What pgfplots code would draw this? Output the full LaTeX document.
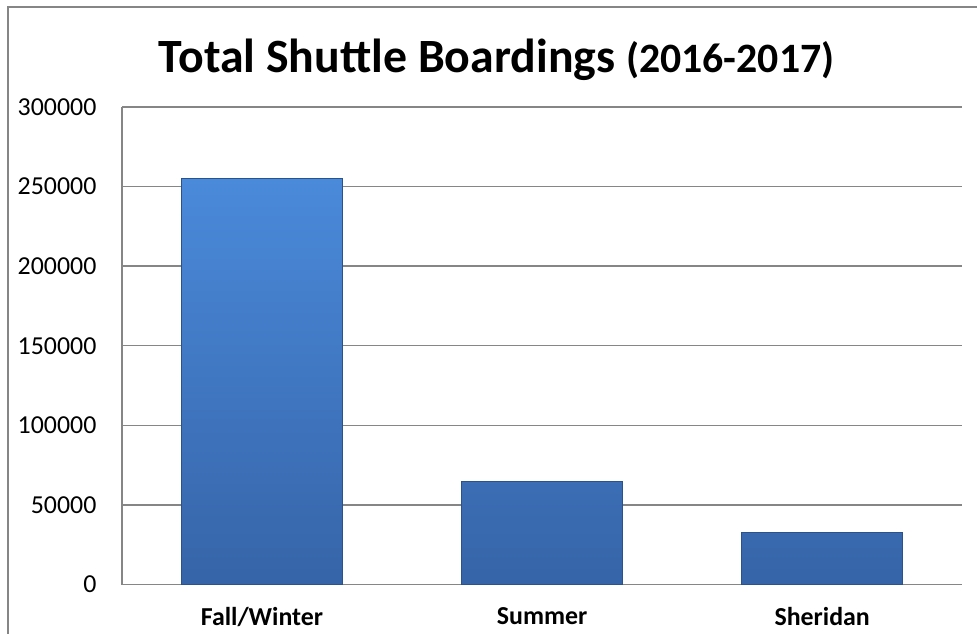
\documentclass[border=0pt]{standalone}
\usepackage{pgfplots}
\pgfplotsset{compat=1.18}
\usepackage{fontspec}
\setmainfont{Carlito}

\definecolor{gridgray}{RGB}{134,134,134}
\definecolor{bartop}{RGB}{74,138,218}
\definecolor{barbot}{RGB}{54,100,168}
\definecolor{baredge}{RGB}{44,82,140}

\begin{document}
\begin{tikzpicture}[x=1bp,y=1bp]
  % page frame
  \path (0,0) rectangle (978,634);
  \draw[gridgray, line width=1.5bp] (8,0) -- (8,627) -- (978,627);

  \node[anchor=base, font=\fontsize{48}{52}\selectfont\bfseries] at (497,561)
    {Total Shuttle Boardings {\fontsize{42}{46}\selectfont(2016-2017)}};

  \begin{axis}[
      at={(122bp,49bp)}, anchor=south west,
      scale only axis,
      width=841bp, height=478bp,
      xmin=-0.5, xmax=2.5,
      ymin=0, ymax=300000,
      ytick={0,50000,...,300000},
      xtick={0,1,2},
      xticklabels={Fall/Winter, Summer, Sheridan},
      scaled y ticks=false,
      /pgf/number format/.cd, fixed, 1000 sep={}, assume math mode=true,
      /pgfplots/.cd,
      axis x line*=bottom, axis y line*=left,
      axis line style={gridgray, line width=1.2bp, -},
      major tick length=0,
      ymajorgrids,
      grid style={gridgray, line width=1.5bp},
      yticklabel style={font=\fontsize{26}{30}\selectfont, xshift=-22bp},
      xticklabel style={font=\fontsize{26}{30}\selectfont\bfseries, yshift=-19bp},
      ybar, bar width=0.575,
    ]
    \addplot[draw=baredge, line width=0.8bp, top color=bartop, bottom color=barbot]
      coordinates {(0,255000) (1,65000) (2,32500)};
  \end{axis}
\end{tikzpicture}
\end{document}
